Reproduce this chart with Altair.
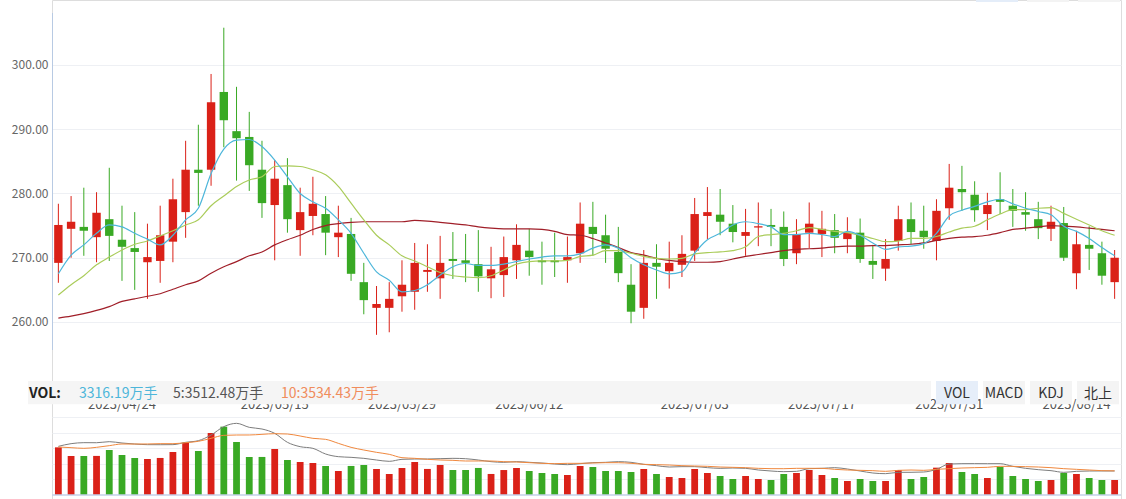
import altair as alt
import pandas as pd

# ---------------- data ----------------
dates = [
    "2023/04/17", "2023/04/18", "2023/04/19", "2023/04/20", "2023/04/21",
    "2023/04/24", "2023/04/25", "2023/04/26", "2023/04/27", "2023/04/28",
    "2023/05/04", "2023/05/05", "2023/05/08", "2023/05/09", "2023/05/10",
    "2023/05/11", "2023/05/12", "2023/05/15", "2023/05/16", "2023/05/17",
    "2023/05/18", "2023/05/19", "2023/05/22", "2023/05/23", "2023/05/24",
    "2023/05/25", "2023/05/26", "2023/05/29", "2023/05/30", "2023/05/31",
    "2023/06/01", "2023/06/02", "2023/06/05", "2023/06/06", "2023/06/07",
    "2023/06/08", "2023/06/09", "2023/06/12", "2023/06/13", "2023/06/14",
    "2023/06/15", "2023/06/16", "2023/06/19", "2023/06/20", "2023/06/21",
    "2023/06/26", "2023/06/27", "2023/06/28", "2023/06/29", "2023/06/30",
    "2023/07/03", "2023/07/04", "2023/07/05", "2023/07/06", "2023/07/07",
    "2023/07/10", "2023/07/11", "2023/07/12", "2023/07/13", "2023/07/14",
    "2023/07/17", "2023/07/18", "2023/07/19", "2023/07/20", "2023/07/21",
    "2023/07/24", "2023/07/25", "2023/07/26", "2023/07/27", "2023/07/28",
    "2023/07/31", "2023/08/01", "2023/08/02", "2023/08/03", "2023/08/04",
    "2023/08/07", "2023/08/08", "2023/08/09", "2023/08/10", "2023/08/11",
    "2023/08/14", "2023/08/15", "2023/08/16", "2023/08/17",
]

open_ = [269.2, 274.5, 274.8, 273.2, 276.0, 272.8, 271.5, 269.3, 269.5, 272.5,
         277.1, 283.7, 283.7, 295.8, 289.7, 288.8, 283.7, 278.2, 281.3, 274.3,
         276.5, 276.8, 273.2, 273.7, 266.2, 262.2, 262.2, 264.0, 264.7, 267.8,
         266.8, 269.8, 269.6, 269.0, 266.8, 267.3, 269.6, 271.1, 269.6, 269.6,
         269.6, 270.7, 274.8, 273.5, 270.9, 265.8, 262.2, 269.2, 267.9, 268.9,
         271.1, 276.5, 276.7, 275.3, 273.4, 274.7, 275.1, 274.8, 270.7, 273.9,
         273.7, 274.3, 272.9, 273.9, 269.5, 268.3, 272.6, 276.0, 274.2, 272.6,
         277.7, 280.7, 279.8, 276.8, 279.1, 278.1, 277.1, 276.0, 274.5, 275.4,
         267.6, 272.0, 270.7, 266.2]
close = [275.1, 275.6, 274.2, 277.0, 273.4, 271.7, 270.9, 270.1, 273.5, 279.1,
         283.7, 283.2, 294.2, 291.4, 288.6, 284.4, 278.5, 282.3, 276.0, 277.1,
         278.4, 273.9, 273.9, 267.5, 263.4, 262.8, 263.6, 265.8, 269.2, 268.1,
         269.2, 269.5, 269.2, 267.1, 268.2, 270.1, 272.0, 270.1, 269.3, 269.3,
         270.1, 275.3, 273.7, 271.4, 267.6, 261.6, 269.2, 268.6, 269.2, 270.6,
         276.8, 277.1, 275.6, 274.0, 274.0, 274.9, 274.8, 269.8, 273.7, 275.3,
         274.5, 273.1, 273.9, 269.8, 268.9, 269.8, 276.0, 274.0, 273.2, 277.3,
         280.9, 280.2, 277.4, 278.2, 278.7, 277.3, 276.7, 274.6, 275.6, 270.0,
         272.1, 271.4, 267.2, 270.0]
high = [278.4, 279.6, 280.9, 280.2, 284.0, 278.1, 277.1, 275.3, 278.1, 282.3,
        288.2, 290.7, 298.6, 305.8, 296.6, 292.7, 288.2, 285.2, 285.5, 280.9,
        282.6, 279.6, 278.1, 276.2, 269.2, 265.6, 266.2, 269.6, 272.3, 272.1,
        273.4, 274.0, 273.7, 274.3, 271.7, 273.3, 275.2, 274.5, 272.5, 273.9,
        273.3, 278.6, 278.7, 276.7, 274.8, 269.0, 271.2, 272.1, 272.5, 273.5,
        279.3, 281.0, 280.7, 278.2, 277.6, 278.6, 277.6, 277.2, 276.0, 278.6,
        277.3, 276.8, 276.3, 276.1, 272.0, 272.9, 278.1, 278.6, 278.1, 279.1,
        284.6, 284.3, 281.9, 280.1, 283.3, 280.7, 280.2, 278.7, 278.1, 277.9,
        274.2, 274.9, 272.5, 271.2]
low = [266.1, 270.0, 270.3, 269.3, 269.5, 266.4, 265.0, 263.6, 266.1, 269.3,
       273.1, 278.1, 281.2, 287.2, 282.0, 280.4, 276.2, 269.6, 273.9, 270.3,
       273.5, 270.4, 270.1, 266.4, 261.2, 258.0, 258.4, 261.6, 261.9, 264.7,
       263.6, 266.7, 266.2, 264.7, 263.7, 263.9, 266.7, 267.2, 265.8, 267.0,
       266.1, 269.2, 270.3, 269.2, 266.2, 259.8, 260.5, 263.6, 265.2, 267.0,
       269.5, 272.9, 273.5, 272.4, 270.3, 271.8, 271.8, 268.7, 269.0, 271.5,
       270.1, 270.7, 270.7, 269.2, 266.7, 266.4, 271.1, 272.1, 271.4, 269.6,
       275.9, 277.3, 275.6, 274.3, 276.8, 274.8, 274.2, 272.9, 272.6, 269.5,
       265.1, 268.1, 265.8, 263.6]

ma5 = [267.5, 270.4, 272.0, 273.8, 275.1, 274.8, 273.8, 272.9, 272.0, 273.5,
       275.9, 277.7, 283.1, 286.9, 288.3, 288.4, 287.3, 285.2, 282.6, 280.0,
       278.7, 277.7, 275.9, 273.8, 270.7, 267.8, 266.5, 264.7, 264.9, 265.8,
       267.3, 268.6, 269.1, 268.8, 268.8, 269.0, 269.4, 269.8, 270.1, 270.3,
       270.3, 270.6, 271.5, 272.0, 271.5, 270.0, 268.9, 268.1, 267.5, 267.8,
       270.7, 272.8, 273.8, 275.1, 275.6, 275.3, 274.8, 273.6, 273.6, 273.8,
       273.6, 273.3, 274.1, 273.5, 272.3, 271.3, 271.7, 271.8, 272.2, 273.8,
       276.5, 277.4, 278.0, 278.7, 279.1, 278.4, 277.7, 277.2, 276.7, 274.9,
       274.1, 273.0, 271.6, 270.3]
ma10 = [264.2, 265.8, 267.2, 268.9, 270.1, 271.2, 272.1, 272.6, 273.4, 274.2,
        275.1, 275.9, 278.1, 279.6, 281.1, 282.1, 282.6, 284.2, 284.3, 284.2,
        283.7, 282.9, 281.1, 278.5, 275.9, 273.5, 272.0, 270.3, 269.5, 268.6,
        267.7, 267.2, 267.0, 266.9, 267.2, 268.1, 269.0, 269.4, 269.5, 269.5,
        269.6, 270.2, 270.4, 271.1, 271.1, 270.7, 270.2, 269.9, 269.8, 269.9,
        270.6, 270.8, 270.9, 271.1, 271.7, 273.3, 273.6, 273.8, 274.2, 274.7,
        274.4, 274.1, 273.9, 273.5, 273.0, 272.5, 272.6, 273.0, 273.0, 273.3,
        274.0, 274.6, 274.9, 275.9, 276.8, 277.5, 277.5, 277.7, 277.8, 276.9,
        276.0, 275.1, 274.2, 273.5]
ma20 = [260.6, 260.9, 261.3, 261.8, 262.4, 263.2, 263.6, 264.0, 264.4, 265.1,
        265.8, 266.4, 267.6, 268.6, 269.4, 270.3, 270.9, 272.0, 272.8, 273.5,
        274.4, 275.0, 275.3, 275.5, 275.6, 275.6, 275.6, 275.6, 275.8, 275.7,
        275.5, 275.3, 275.1, 274.8, 274.6, 274.5, 274.5, 274.5, 274.4, 274.1,
        273.6, 273.5, 273.0, 272.3, 271.6, 270.8, 270.4, 269.9, 269.6, 269.4,
        269.3, 269.3, 269.4, 269.8, 270.2, 270.5, 270.8, 271.1, 271.3, 271.4,
        271.5, 271.7, 271.8, 271.8, 271.9, 271.9, 272.0, 272.1, 272.3, 272.7,
        273.0, 273.2, 273.3, 273.5, 273.9, 274.4, 274.6, 274.8, 275.0, 274.9,
        274.8, 274.6, 274.4, 274.2]

# volume in 万手
volume = [10537.7, 8621.7, 8606.3, 8640.2, 9948.2, 8842.8, 8179.6, 7958.5, 8190.4, 9506.0,
          11569.3, 9727.1, 13706.3, 15106.5, 11716.7, 8400.7, 8412.9, 10169.2, 7737.5, 7295.3,
          7074.2, 6411.0, 5305.7, 6420.8, 6632.1, 5747.8, 4642.5, 5968.9, 7290.6, 5760.3,
          6640.7, 5526.8, 5533.4, 5980.2, 4650.1, 5518.9, 5975.6, 5305.7, 4863.5, 4642.5,
          4421.4, 6411.0, 6189.9, 5305.7, 5300.2, 5084.6, 5747.8, 4642.5, 3979.3, 3758.2,
          5747.8, 4863.5, 4200.3, 3537.1, 4200.3, 3537.1, 3320.5, 4642.5, 4863.5, 5526.8,
          4421.4, 3758.2, 3095.0, 3537.1, 3095.0, 3101.3, 5526.8, 3537.1, 3979.3, 6042.6,
          7074.2, 5084.6, 4642.5, 3758.2, 6189.9, 4200.3, 3537.1, 3095.0, 3316.2, 4863.5,
          4642.5, 3758.2, 3316.2, 3316.19]
vol_ma5 = [7121.9, 7512.1, 7658.5, 7650.2, 7804.8, 7609.7, 7463.3, 7365.8, 7360.1, 7370.4,
           7707.2, 7951.1, 8780.4, 10000.0, 10487.7, 9902.3, 9658.4, 9024.3, 7707.2, 7073.1,
           6829.2, 6000.0, 5609.7, 5512.1, 5365.8, 5121.9, 4926.8, 5219.5, 5268.2, 5270.6,
           5317.0, 5365.8, 5310.3, 5121.9, 4878.0, 4780.4, 4881.2, 4785.0, 4682.9, 4536.5,
           4439.0, 4585.3, 4731.7, 4780.4, 4878.0, 4780.4, 4487.8, 4292.6, 4097.5, 4146.3,
           4150.1, 4000.0, 3902.4, 3951.2, 3905.5, 3658.5, 3512.2, 3414.6, 3463.4, 3853.7,
           3902.4, 4000.0, 3804.9, 3512.2, 3219.5, 3121.9, 3317.1, 3320.4, 3365.8, 3756.1,
           4536.5, 4585.3, 4590.2, 4582.1, 4585.0, 4195.1, 3902.4, 3707.3, 3560.9, 3317.1,
           3463.4, 3512.2, 3515.6, 3512.48]
vol_ma10 = [7024.3, 6926.8, 6829.2, 6975.5, 7219.4, 7463.3, 7458.1, 7466.0, 7512.1, 7509.6,
            7658.5, 7853.6, 8292.6, 8731.6, 8780.4, 8785.2, 8878.0, 8975.5, 8926.7, 8634.1,
            8292.6, 8146.3, 7560.9, 6975.5, 6585.3, 6243.8, 5951.2, 5463.4, 5365.8, 5219.5,
            5121.9, 5073.1, 4975.6, 4980.2, 4971.3, 4878.0, 4829.2, 4731.7, 4634.1, 4585.3,
            4634.1, 4630.5, 4682.9, 4731.7, 4728.0, 4634.1, 4487.8, 4439.0, 4390.2, 4292.6,
            4243.9, 4195.1, 4097.5, 4048.7, 4000.0, 3902.4, 3853.7, 3850.2, 3902.4, 3905.1,
            3900.3, 3756.1, 3658.5, 3609.7, 3561.0, 3463.4, 3609.7, 3658.5, 3609.7, 3756.1,
            3853.7, 3951.2, 4000.0, 4048.7, 4195.1, 4190.6, 4146.3, 4097.5, 4000.0, 3853.7,
            3756.1, 3658.5, 3561.0, 3534.43]

price_ticks = [260, 270, 280, 290, 300]
date_ticks = ["2023/04/24", "2023/05/15", "2023/05/29", "2023/06/12",
              "2023/07/03", "2023/07/17", "2023/07/31", "2023/08/14"]
vol_grid = [3435.4, 6870.8, 10306.2, 13741.6, 17177.0]

vol_now = 3316.19
vol_ma5_now = 3512.48
vol_ma10_now = 3534.43
buttons = ["VOL", "MACD", "KDJ", "北上"]

df = pd.DataFrame({
    "date": dates, "open": open_, "close": close, "high": high, "low": low,
    "ma5": ma5, "ma10": ma10, "ma20": ma20,
    "vol": volume, "vma5": vol_ma5, "vma10": vol_ma10,
})

# ---------------- styling ----------------
FONT = "Noto Sans CJK SC"
RED = "#da2118"
GREEN = "#39a924"
GRID = "#eef0f4"
W = 1069
H = 499

up = alt.condition("datum.close >= datum.open", alt.value(RED), alt.value(GREEN))

x_axis = alt.Axis(values=date_ticks, orient="bottom", offset=-101, labelAngle=0,
                  ticks=False, tickSize=0, domain=False, grid=False, labelPadding=0,
                  labelFont=FONT, labelFontSize=13, labelColor="#555",
                  labelOverlap=False, zindex=0)
x_enc = alt.X("date:O", title=None, axis=x_axis,
              scale=alt.Scale(type="band", domain=dates, paddingInner=0, paddingOuter=0))

price_scale = alt.Scale(domain=[255.64, 308.09], range=[350, 13], nice=False, zero=False)
price_axis = alt.Axis(values=price_ticks, format=".2f", grid=True, gridColor=GRID,
                      gridWidth=1.2, domain=False,
                      ticks=False, labelPadding=4, labelFont=FONT, labelFontSize=12,
                      labelColor="#666", zindex=0)

base = alt.Chart(df)

wicks = base.mark_rule(strokeWidth=1).encode(
    x=x_enc,
    y=alt.Y("high:Q", scale=price_scale, axis=price_axis, title=None),
    y2="low:Q",
    color=up,
)
bodies = base.mark_bar(width=8.4).encode(
    x=x_enc,
    y=alt.Y("open:Q", scale=price_scale, axis=price_axis, title=None),
    y2="close:Q",
    color=up,
)


def ma_line(field, color):
    return base.mark_line(interpolate="monotone", strokeWidth=1.2, color=color).encode(
        x=x_enc,
        y=alt.Y(f"{field}:Q", scale=price_scale, axis=price_axis, title=None),
    )


price_layer = alt.layer(
    wicks, bodies,
    ma_line("ma20", "#a01e28"),
    ma_line("ma10", "#aacc5a"),
    ma_line("ma5", "#4db6da"),
)

vol_scale = alt.Scale(domain=[0, 17177], range=[495, 417.3], nice=False)
vol_axis = alt.Axis(values=vol_grid, grid=True, gridColor=GRID, gridWidth=1.2,
                    labels=False, ticks=False, domain=False, zindex=0)

vol_bars = base.mark_bar(width=6.8).encode(
    x=x_enc,
    y=alt.Y("vol:Q", scale=vol_scale, axis=vol_axis, title=None),
    color=up,
)
vol_base = alt.Chart(pd.DataFrame({"base": [0]})).mark_rule(
    color="#c3d0e8", strokeWidth=1.5
).encode(
    y=alt.Y("base:Q", scale=vol_scale, axis=vol_axis, title=None),
    x=alt.value(0), x2=alt.value(W),
)
vol_layer = alt.layer(vol_bars, vol_base)

vma_scale = alt.Scale(domain=[0, 11371], range=[495, 417.3], nice=False)


def vma_line(field, color):
    return base.mark_line(interpolate="monotone", strokeWidth=1, color=color).encode(
        x=x_enc,
        y=alt.Y(f"{field}:Q", scale=vma_scale, axis=None),
    )


vma_layer = alt.layer(vma_line("vma5", "#7d7d7d"), vma_line("vma10", "#f0883e"))

# ---------------- decorations (axis line / header bar / buttons) ----------------
one = pd.DataFrame({"k": [0]})


def box(x0, x1, y0, y1, color):
    return alt.Chart(one).mark_rect(color=color).encode(
        x=alt.value(x0), x2=alt.value(x1), y=alt.value(y0), y2=alt.value(y1))


def label(txt, x, y, color, align="left", weight="normal", size=14):
    return alt.Chart(pd.DataFrame({"t": [txt]})).mark_text(
        align=align, baseline="alphabetic", font=FONT, fontSize=size,
        fontWeight=weight, color=color,
    ).encode(x=alt.value(x), y=alt.value(y), text="t:N")


axis_line = alt.Chart(one).mark_rule(color="#b8cae3", strokeWidth=1).encode(
    x=alt.value(0.5), y=alt.value(13), y2=alt.value(350))

deco = [
    axis_line,
    box(-24, 879, 381, 404.3, "#f5f5f5"),
    label("VOL:", -23, 397.7, "#222222", weight="bold"),
    label(f"{vol_now:.2f}万手", 27, 397.7, "#4db6da"),
    label(f"5:{vol_ma5_now:.2f}万手", 121, 397.7, "#555555"),
    label(f"10:{vol_ma10_now:.2f}万手", 229, 397.7, "#f08c5c"),
    box(884, 926, 381, 404.3, "#e6eef9"),
    box(931, 973, 381, 404.3, "#f4f4f4"),
    box(978, 1020, 381, 404.3, "#f4f4f4"),
    box(1025, 1067, 381, 404.3, "#f4f4f4"),
    label(buttons[0], 905, 397.7, "#333333", align="center"),
    label(buttons[1], 952, 397.7, "#333333", align="center"),
    label(buttons[2], 999, 397.7, "#333333", align="center"),
    label(buttons[3], 1046, 397.7, "#333333", align="center"),
    box(924, 966, 0, 2, "#e4edf9"),
    box(975, 1017, 0, 2, "#f3f3f3"),
    box(1026, 1068, 0, 2, "#f3f3f3"),
]

chart = alt.layer(price_layer, vol_layer, vma_layer, *deco).resolve_scale(
    y="independent"
).properties(
    width=W, height=H,
    autosize=alt.AutoSizeParams(type="none"),
    padding={"left": 52, "top": 0, "right": 5, "bottom": 0},
).configure_view(stroke=None).configure(background="white")

chart.save("out.html", embed_options={"renderer": "svg", "actions": False})
